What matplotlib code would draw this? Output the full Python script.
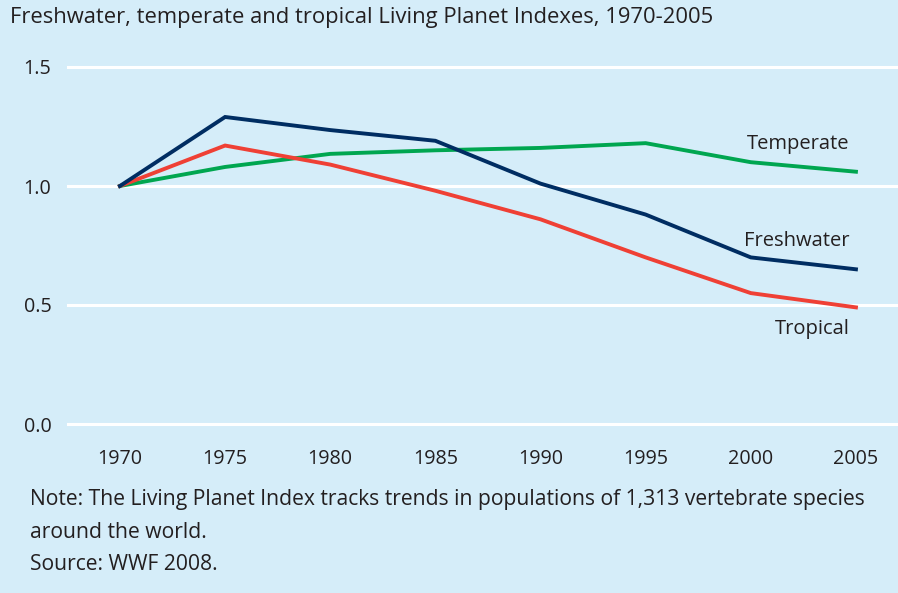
import matplotlib
matplotlib.use("Agg")
import matplotlib.pyplot as plt

# data
years = [1970, 1975, 1980, 1985, 1990, 1995, 2000, 2005]
freshwater = [1.00, 1.29, 1.235, 1.19, 1.01, 0.88, 0.70, 0.65]
tropical = [1.00, 1.17, 1.09, 0.98, 0.86, 0.70, 0.55, 0.49]
temperate = [1.00, 1.08, 1.135, 1.15, 1.16, 1.18, 1.10, 1.06]
yticks = [0.0, 0.5, 1.0, 1.5]

bg = "#d5edf9"
txt = "#231f20"
plt.rcParams['font.family'] = ['Open Sans', 'DejaVu Sans']

fig = plt.figure(figsize=(8.98, 5.93), dpi=100, facecolor=bg)
ax = fig.add_axes([68 / 898, 1 - 424 / 593, 1 - 68 / 898, (424 - 67) / 593])
ax.set_facecolor(bg)

for y in yticks:
    ax.axhline(y, color="white", lw=2.2, zorder=1, clip_on=False)

ax.plot(years, temperate, color="#00a650", lw=2.8, zorder=3, solid_joinstyle="miter")
ax.plot(years, tropical, color="#ef4035", lw=2.8, zorder=3, solid_joinstyle="miter")
ax.plot(years, freshwater, color="#002d62", lw=2.8, zorder=4, solid_joinstyle="miter")

ax.set_xlim(1967.53, 2007.0)
ax.set_ylim(0, 1.5)
ax.set_xticks(years)
ax.set_xticklabels([str(y) for y in years])
ax.set_yticks(yticks)
ax.set_yticklabels(["0.0", "0.5", "1.0", "1.5"])
ax.tick_params(length=0, labelsize=14.2, colors=txt)
ax.tick_params(axis="y", pad=12)
ax.tick_params(axis="x", pad=18)
for s in ax.spines.values():
    s.set_visible(False)

ax.text(2004.7, 1.175, "Temperate", ha="right", va="center", fontsize=14.5, color=txt)
ax.text(2004.7, 0.77, "Freshwater", ha="right", va="center", fontsize=14.5, color=txt)
ax.text(2004.7, 0.40, "Tropical", ha="right", va="center", fontsize=14.5, color=txt)

fig.text(10 / 898, 1 - 18 / 593, "Freshwater, temperate and tropical Living Planet Indexes, 1970-2005",
         ha="left", va="center", fontsize=15.8, color=txt)
fig.text(30 / 898, 1 - 500 / 593, "Note: The Living Planet Index tracks trends in populations of 1,313 vertebrate species",
         ha="left", va="center", fontsize=15.2, color=txt)
fig.text(30 / 898, 1 - 532 / 593, "around the world.", ha="left", va="center", fontsize=15.2, color=txt)
fig.text(30 / 898, 1 - 564 / 593, "Source: WWF 2008.", ha="left", va="center", fontsize=15.2, color=txt)

fig.savefig("out.png", dpi=100, facecolor=bg)
